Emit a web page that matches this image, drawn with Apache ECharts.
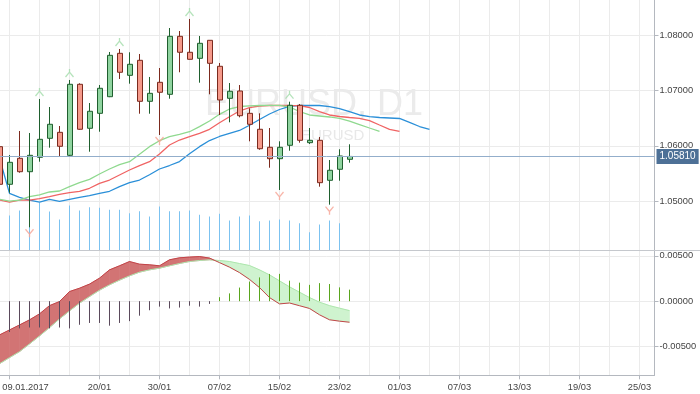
<!DOCTYPE html>
<html>
<head>
<meta charset="utf-8">
<script src="https://cdn.jsdelivr.net/npm/echarts@6/dist/echarts.min.js"></script>
<style>
html,body{margin:0;padding:0;background:#fff;}
#chart{width:700px;height:394px;}
</style>
</head>
<body>
<div id="chart"></div>
<script>
// ---- categories (trading days, then calendar days ahead) ----
const dates = ['06/01','09/01','10/01','11/01','12/01','13/01','16/01','17/01','18/01','19/01','20/01',
'23/01','24/01','25/01','26/01','27/01','30/01','31/01','01/02','02/02','03/02','06/02','07/02','08/02',
'09/02','10/02','13/02','14/02','15/02','16/02','17/02','20/02','21/02','22/02','23/02','24/02',
'25/02','26/02','27/02','28/02','01/03','02/03','03/03','04/03','05/03','06/03','07/03','08/03','09/03',
'10/03','11/03','12/03','13/03','14/03','15/03','16/03','17/03','18/03','19/03','20/03','21/03','22/03',
'23/03','24/03','25/03','26/03'];
const tickLabels = {'09/01':'09.01.2017','20/01':'20/01','30/01':'30/01','07/02':'07/02','15/02':'15/02',
'23/02':'23/02','01/03':'01/03','07/03':'07/03','13/03':'13/03','19/03':'19/03','25/03':'25/03'};

// ---- EURUSD D1 candles ----
const opens  = [1.05986,1.05307,1.05776,1.05534,1.05794,1.06137,1.06245,1.05830,1.07112,1.06318,1.06588,1.06888,1.07671,1.07274,1.07545,1.06805,1.07148,1.06931,1.07978,1.07690,1.07581,1.07906,1.07437,1.06859,1.06991,1.06588,1.06300,1.05975,1.05769,1.06011,1.06733,1.06058,1.06101,1.05379,1.05578,1.05758];
const highs  = [1.06100,1.05836,1.06269,1.06233,1.06847,1.06702,1.06359,1.07190,1.07130,1.06774,1.07099,1.07695,1.07749,1.07690,1.07659,1.07244,1.07406,1.08128,1.08074,1.08291,1.07984,1.07910,1.07496,1.07135,1.07099,1.06679,1.06588,1.06323,1.06083,1.06798,1.06756,1.06323,1.06161,1.05745,1.05939,1.06029];
const lows   = [1.05240,1.05155,1.05516,1.04531,1.05715,1.05968,1.05805,1.05810,1.06290,1.05895,1.06256,1.06880,1.07208,1.07123,1.06581,1.06581,1.06197,1.06852,1.07329,1.07560,1.07141,1.06931,1.06558,1.06426,1.06516,1.06083,1.05931,1.05606,1.05204,1.05913,1.06058,1.06034,1.05264,1.04939,1.05372,1.05697];
const closes = [1.05307,1.05704,1.05534,1.05830,1.06119,1.06390,1.05993,1.07112,1.06300,1.06625,1.07040,1.07635,1.07329,1.07473,1.06805,1.06949,1.06968,1.07978,1.07690,1.07563,1.07852,1.07491,1.06829,1.06986,1.06545,1.06390,1.05949,1.05769,1.05975,1.06733,1.06101,1.06101,1.05336,1.05560,1.05818,1.05810];
const lastPrice = 1.05810;

// ---- Alligator (lips / teeth / jaw, shifted forward) ----
const lips  = [1.05036,1.05005,1.05023,1.05083,1.05114,1.05168,1.05186,1.05264,1.05336,1.05397,1.05493,1.05583,1.05661,1.05715,1.05848,1.05986,1.06094,1.06166,1.06209,1.06256,1.06347,1.06449,1.06570,1.06666,1.06711,1.06724,1.06729,1.06733,1.06733,1.06702,1.06621,1.06558,1.06540,1.06522,1.06495,1.06449,1.06386,1.06323,1.06264];
const teeth = [1.05023,1.04987,1.05023,1.05023,1.05047,1.05083,1.05126,1.05155,1.05181,1.05235,1.05325,1.05384,1.05475,1.05565,1.05643,1.05715,1.05854,1.06016,1.06106,1.06166,1.06227,1.06300,1.06419,1.06527,1.06630,1.06689,1.06720,1.06729,1.06733,1.06729,1.06726,1.06693,1.06617,1.06558,1.06531,1.06513,1.06498,1.06455,1.06377,1.06300,1.06264];
const jaw   = [1.05782,1.05144,1.05072,1.05023,1.04987,1.05036,1.05000,1.05036,1.05072,1.05101,1.05144,1.05181,1.05264,1.05336,1.05384,1.05480,1.05583,1.05646,1.05718,1.05859,1.05986,1.06097,1.06170,1.06227,1.06278,1.06372,1.06477,1.06576,1.06657,1.06715,1.06729,1.06733,1.06729,1.06708,1.06671,1.06617,1.06558,1.06527,1.06513,1.06504,1.06495,1.06426,1.06350,1.06300];

// ---- fractals (bar indexes) ----
const upFractals = [4,7,12,19,29];
const downFractals = [3,16,28,33];

// ---- tick volume ----
const volumes = ['-',140000,160000,160000,191000,156000,124000,180000,160000,173000,171000,163000,163000,149000,157000,136000,176000,157000,157000,160000,143000,136000,147000,120000,136000,140000,117000,120000,124000,120000,109000,73000,104000,120000,109000,'-'];

// ---- oscillator panel ----
const oscRed   = [-0.00372,-0.00317,-0.00262,-0.00206,-0.00140,-0.00049,-0.00004,0.00106,0.00143,0.00188,0.00254,0.00345,0.00390,0.00437,0.00408,0.00401,0.00390,0.00456,0.00478,0.00486,0.00492,0.00475,0.00425,0.00375,0.00315,0.00240,0.00150,0.00040,-0.00030,-0.00020,-0.00050,-0.00080,-0.00150,-0.00205,-0.00220,-0.00232];
const oscGreen = [-0.00689,-0.00622,-0.00556,-0.00471,-0.00383,-0.00291,-0.00195,-0.00107,-0.00022,0.00051,0.00121,0.00180,0.00232,0.00279,0.00320,0.00345,0.00364,0.00390,0.00415,0.00437,0.00448,0.00456,0.00448,0.00437,0.00415,0.00393,0.00345,0.00290,0.00224,0.00158,0.00099,0.00040,-0.00011,-0.00049,-0.00077,-0.00104];
const oscHist  = ['-',-0.0034,-0.0030,-0.0029,-0.0029,-0.0030,-0.0029,-0.0030,-0.0026,-0.0024,-0.0024,-0.0027,-0.0024,-0.0022,-0.0016,-0.0010,-0.0006,-0.0008,-0.0007,-0.0005,-0.0006,-0.0003,0.00044,0.00086,0.00150,0.00216,0.00262,0.00300,0.00301,0.00226,0.00204,0.00180,0.00199,0.00189,0.00152,0.00127];

// ---- layout ----
const FONT = 'Liberation Sans';
const GL = -5.5, GW = 660;
const AXC = '#b4b8bf', GRIDC = '#ebebeb', TXT = '#444';

const candleData = opens.map((o,i)=>[o, closes[i], lows[i], highs[i]]);
const labelShown = (idx, val) => Object.prototype.hasOwnProperty.call(tickLabels, val);

function bandItem(params, api) {
  const i = params.dataIndex;
  if (i >= oscRed.length - 1) return null;
  const a0 = api.coord([i, oscRed[i]]), b0 = api.coord([i, oscGreen[i]]);
  const a1 = api.coord([i+1, oscRed[i+1]]), b1 = api.coord([i+1, oscGreen[i+1]]);
  const d0 = oscRed[i]-oscGreen[i], d1 = oscRed[i+1]-oscGreen[i+1];
  const RED = '#d27474', GRN = '#cff3cf';
  const poly = (pts, c) => ({type:'polygon', shape:{points:pts}, style:{fill:c, stroke:c, lineWidth:0.6}});
  if ((d0 >= 0) === (d1 >= 0)) {
    return {type:'group', children:[poly([a0,a1,b1,b0], d0>=0?RED:GRN)]};
  }
  const t = d0/(d0-d1);
  const c = [a0[0]+t*(a1[0]-a0[0]), a0[1]+t*(a1[1]-a0[1])];
  return {type:'group', children:[poly([a0,c,b0], d0>=0?RED:GRN), poly([c,a1,b1], d1>=0?RED:GRN)]};
}

// thin 1px stick from zero to the value, on the pixel column of the bar centre
function stickRenderer(colorFn) {
  return function (params, api) {
    const v = api.value(1);
    if (v == null || isNaN(v)) return null;
    const i = api.value(0);
    const p0 = api.coord([i, 0]), p1 = api.coord([i, v]);
    const x = Math.floor(p0[0]) + 0.5;
    return {type:'line', shape:{x1:x, y1:p0[1], x2:x, y2:p1[1]},
      style:{stroke:colorFn(v), lineWidth:1}};
  };
}

const chart = echarts.init(document.getElementById('chart'), null, {renderer:'canvas'});
const yLabel = {color:TXT, fontSize:9.3, fontFamily:FONT, margin:5, formatter:v=>v.toFixed(5), showMinLabel:false, showMaxLabel:false};

chart.setOption({
  animation:false,
  textStyle:{fontFamily:FONT},
  grid:[
    {left:GL, top:0, width:GW, height:250.5, outerBoundsMode:'none', containLabel:false},
    {left:GL, top:200, width:GW, height:50.5, outerBoundsMode:'none', containLabel:false},
    {left:GL, top:250.5, width:GW, height:124.8, outerBoundsMode:'none', containLabel:false},
    {left:GL, top:0, width:GW, height:375.3, outerBoundsMode:'none', containLabel:false}
  ],
  xAxis:[
    {type:'category', gridIndex:0, data:dates, show:false},
    {type:'category', gridIndex:1, data:dates, show:false},
    {type:'category', gridIndex:2, data:dates,
      axisLine:{show:true, onZero:false, lineStyle:{color:AXC}},
      axisTick:{show:true, alignWithLabel:true, interval:labelShown, length:4, lineStyle:{color:AXC}},
      axisLabel:{show:true, interval:labelShown, color:TXT, fontSize:9.3, fontFamily:FONT, margin:8,
        formatter:(v)=> v==='09/01' ? '{f|'+tickLabels[v]+'}' : (tickLabels[v]||''),
        rich:{f:{padding:[0,0,0,32], color:TXT, fontSize:9.3, fontFamily:FONT}}},
      splitLine:{show:false}},
    {type:'value', gridIndex:3, min:1.5, max:67.5, minInterval:3, maxInterval:3,
      axisLine:{show:false}, axisTick:{show:false}, axisLabel:{show:false},
      splitLine:{show:true, showMinLine:false, showMaxLine:false, lineStyle:{color:GRIDC, width:1}}}
  ],
  yAxis:[
    {type:'value', gridIndex:0, position:'right', min:1.041119, max:1.086336, minInterval:0.01, maxInterval:0.01,
      axisLine:{show:true, lineStyle:{color:AXC}}, axisTick:{show:true, length:4, lineStyle:{color:AXC}},
      axisLabel:yLabel,
      splitLine:{show:true, showMinLine:false, showMaxLine:false, lineStyle:{color:GRIDC}}},
    {type:'value', gridIndex:1, min:0, max:202000, show:false, splitLine:{show:false}},
    {type:'value', gridIndex:2, position:'right', min:-0.008168, max:0.005585, minInterval:0.005, maxInterval:0.005,
      axisLine:{show:true, lineStyle:{color:AXC}}, axisTick:{show:true, length:4, lineStyle:{color:AXC}},
      axisLabel:yLabel,
      splitLine:{show:true, showMinLine:false, showMaxLine:false, lineStyle:{color:GRIDC}}},
    {type:'value', gridIndex:3, min:0, max:1, show:false, splitLine:{show:false}}
  ],
  graphic:[
    {type:'text', x:205, y:105, z:1, silent:true,
      style:{text:'EURUSD, D1', font:'36px "Liberation Sans"', fill:'#ebebeb', textVerticalAlign:'middle'}},
    {type:'text', x:301, y:136, z:1, silent:true,
      style:{text:'EURUSD', font:'15px "Liberation Sans"', fill:'#e8e8e8', textVerticalAlign:'middle'}},
    {type:'line', z:50, silent:true, shape:{x1:0, y1:250.5, x2:700, y2:250.5}, style:{stroke:'#c5c8cd', lineWidth:1}}
  ],
  series:[
    {type:'custom', name:'Volume', xAxisIndex:1, yAxisIndex:1, z:1,
      data:volumes.map((v,i)=>[i, v]), encode:{x:0, y:1},
      renderItem:stickRenderer(()=> '#7cc2f0')},
    {type:'line', name:'Jaw', xAxisIndex:0, yAxisIndex:0, data:jaw, showSymbol:false, z:2,
      lineStyle:{color:'#2a8fd8', width:1.3}},
    {type:'line', name:'Teeth', xAxisIndex:0, yAxisIndex:0, data:teeth, showSymbol:false, z:2,
      lineStyle:{color:'#f06464', width:1.3}},
    {type:'line', name:'Lips', xAxisIndex:0, yAxisIndex:0, data:lips, showSymbol:false, z:2,
      lineStyle:{color:'#8fd98f', width:1.3},
      markLine:{silent:true, symbol:'none', animation:false, precision:5,
        lineStyle:{color:'#93aecb', width:1, type:'solid'},
        label:{show:true, position:'end', distance:2, formatter:()=>lastPrice.toFixed(5),
          color:'#ffffff', backgroundColor:'#4d7096', padding:[3,3,2,3], fontSize:10, fontFamily:FONT},
        data:[{yAxis:lastPrice}]}},
    {type:'candlestick', name:'EURUSD', xAxisIndex:0, yAxisIndex:0, data:candleData, barWidth:5.5, z:3,
      itemStyle:{color:'#90d4a0', color0:'#f59a8b', borderColor:'#1f5f2e', borderColor0:'#7b2a1e', borderWidth:1}},
    {type:'scatter', name:'FractalUp', xAxisIndex:0, yAxisIndex:0, z:4,
      data:upFractals.map(i=>[i, highs[i]]),
      symbol:'path://M5,0L5,4M5,4L0,10M5,4L10,10', symbolSize:[8,8], symbolOffset:[0,-7],
      itemStyle:{color:'rgba(0,0,0,0)', borderColor:'#a3dcaa', borderWidth:1.3}},
    {type:'scatter', name:'FractalDown', xAxisIndex:0, yAxisIndex:0, z:4,
      data:downFractals.map(i=>[i, lows[i]]),
      symbol:'path://M0,0L5,6M10,0L5,6M5,6L5,10', symbolSize:[8,8], symbolOffset:[0,6],
      itemStyle:{color:'rgba(0,0,0,0)', borderColor:'#f6a394', borderWidth:1.3}},
    {type:'custom', name:'Band', xAxisIndex:2, yAxisIndex:2, z:2,
      data:oscRed.map((v,i)=>[i, v, oscGreen[i]]), encode:{x:0, y:[1,2]},
      renderItem:bandItem},
    {type:'line', name:'Signal', xAxisIndex:2, yAxisIndex:2, data:oscGreen, showSymbol:false, z:3,
      lineStyle:{color:'#aee6ae', width:1}},
    {type:'line', name:'Main', xAxisIndex:2, yAxisIndex:2, data:oscRed, showSymbol:false, z:3,
      lineStyle:{color:'#c24448', width:1}},
    {type:'custom', name:'Hist', xAxisIndex:2, yAxisIndex:2, z:4,
      data:oscHist.map((v,i)=>[i, v]), encode:{x:0, y:1},
      renderItem:stickRenderer((v)=> v >= 0 ? '#5aa51e' : '#5b4a5c')}
  ]
});
</script>
</body>
</html>
